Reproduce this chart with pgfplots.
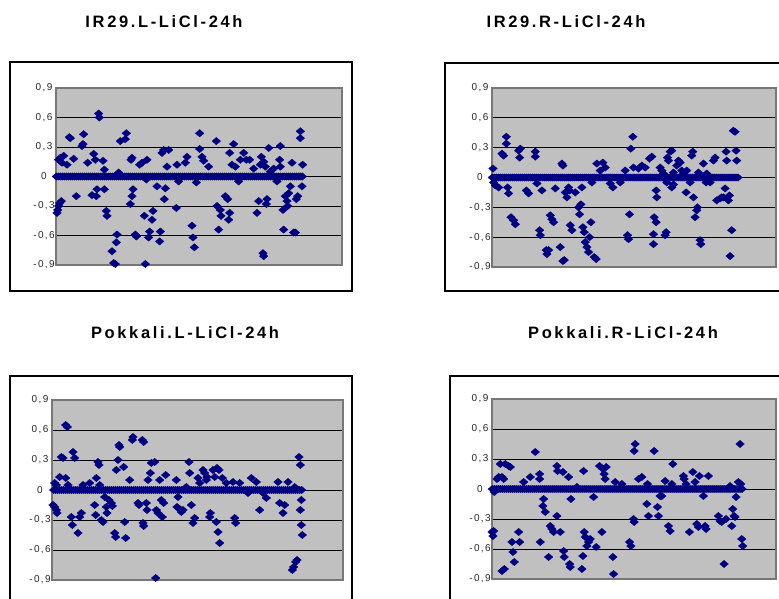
\documentclass[border=0pt]{standalone}
\usepackage{fontspec}
\setmainfont{Liberation Sans}
\newfontfamily\ticksfont[LetterSpace=14]{Liberation Sans}
\newfontfamily\titlefont[LetterSpace=16]{Liberation Sans Bold}
\usepackage{pgfplots}
\pgfplotsset{compat=1.18}
\usepackage{pgfplotstable}
\definecolor{navy}{HTML}{000080}
\definecolor{plotgray}{HTML}{C0C0C0}
\definecolor{bordergray}{HTML}{777777}

\pgfplotstableread[row sep=\\]{
x y\\
150 0\\ 156 0\\ 162 0\\ 168 0\\ 174 0\\ 180 0\\ 186 0\\ 192 0\\ 198 0\\ 204 0\\ 210 0\\ 216 0\\ 222 0\\ 228 0\\ 234 0\\ 240 0\\ 246 0\\ 252 0\\ 258 0\\ 264 0\\ 270 0\\ 276 0\\ 282 0\\ 288 0\\ 294 0\\ 300 0\\ 306 0\\ 312 0\\ 318 0\\ 324 0\\ 330 0\\ 336 0\\ 342 0\\ 348 0\\ 354 0\\ 360 0\\ 366 0\\ 372 0\\ 378 0\\ 384 0\\ 390 0\\ 396 0\\ 402 0\\ 408 0\\ 414 0\\ 420 0\\ 426 0\\ 432 0\\ 438 0\\ 444 0\\ 450 0\\ 456 0\\ 462 0\\ 468 0\\ 474 0\\ 480 0\\ 486 0\\ 492 0\\ 498 0\\ 504 0\\ 510 0\\ 516 0\\ 522 0\\ 528 0\\ 534 0\\ 540 0\\ 546 0\\ 552 0\\ 558 0\\ 564 0\\ 570 0\\ 576 0\\ 582 0\\ 588 0\\ 594 0\\ 600 0\\ 606 0\\ 612 0\\ 618 0\\ 624 0\\ 630 0\\ 636 0\\ 642 0\\ 648 0\\ 654 0\\ 660 0\\ 666 0\\ 672 0\\ 678 0\\ 684 0\\ 690 0\\ 696 0\\ 702 0\\ 708 0\\ 714 0\\ 720 0\\ 726 0\\ 732 0\\ 738 0\\ 744 0\\ 750 0\\ 756 0\\ 762 0\\ 768 0\\ 774 0\\ 780 0\\ 786 0\\ 792 0\\ 798 0\\ 804 0\\ 810 0\\ 816 0\\ 822 0\\ 828 0\\ 834 0\\ 840 0\\ 846 0\\ 852 0\\ 858 0\\ 864 0\\ 870 0\\ 876 0\\ 882 0\\ 888 0\\ 894 0\\ 900 0\\ 906 0\\ 912 0\\ 918 0\\ 924 0\\ 930 0\\ 936 0\\ 942 0\\ 948 0\\ 954 0\\ 960 0\\ 966 0\\ 972 0\\
}\zeroband

\pgfplotsset{
  panel/.style={
    scale only axis, anchor=south west,
    ymin=-0.9, ymax=0.9,
    ytick={-0.6,-0.3,0,0.3,0.6},
    yticklabels={{-0,6},{-0,3},{0},{0,3},{0,6}},
    extra y ticks={-0.9,0.9},
    extra y tick labels={{-0,9},{0,9}},
    extra y tick style={grid=none},
    ymajorgrids,
    major grid style={black, line width=0.8pt},
    xtick=\empty,
    axis background/.style={fill=plotgray},
    axis line style={bordergray, line width=1.2pt},
    tick style={draw=none},
    yticklabel style={font=\ticksfont\fontsize{10}{10}\selectfont, anchor=center, xshift=-12pt, text=black!85},
    clip=false,
  },
  dots/.style={only marks, mark=diamond*, mark size=3.7pt, color=navy, mark options={xscale=1.55, fill=navy, draw=navy, line width=0.3pt}},
}

\begin{document}
\begin{tikzpicture}
\useasboundingbox (0,0) rectangle (779pt,598pt);
\clip (0,0) rectangle (779pt,598pt);

% outer frames
\draw[black, line width=1.6pt] (10pt,307pt) rectangle (352pt,536pt);
\draw[black, line width=1.6pt] (445pt,307pt) rectangle (795pt,535pt);
\draw[black, line width=1.6pt] (10pt,-12pt) rectangle (352pt,222pt);
\draw[black, line width=1.6pt] (450pt,-12pt) rectangle (795pt,222pt);

% titles
\node[font=\titlefont\fontsize{16.5}{16.5}\selectfont] at (164pt,576pt) {IR29.L-LiCl-24h};
\node[font=\titlefont\fontsize{16.5}{16.5}\selectfont] at (566pt,576pt) {IR29.R-LiCl-24h};
\node[font=\titlefont\fontsize{16.5}{16.5}\selectfont] at (185pt,265pt) {Pokkali.L-LiCl-24h};
\node[font=\titlefont\fontsize{16.5}{16.5}\selectfont] at (623pt,265pt) {Pokkali.R-LiCl-24h};

% ---------- IR29.L ----------
\begin{axis}[panel, at={(56pt,333pt)}, width=286pt, height=177pt, xmin=167, xmax=1025]
\addplot[dots, restrict x to domain=167:910] table {\zeroband};
\addplot[dots] coordinates {
(170,-0.37)(172,-0.34)(175,-0.30)(175,0.17)(180,0.19)(185,0.14)(183,-0.25)(178,-0.27)(190,0.21)(200,0.12)(207,0.40)(210,0.39)(220,0.18)(228,-0.20)(250,0.43)(245,0.31)(248,0.33)(262,0.14)(275,-0.19)(280,0.23)(285,0.17)(290,-0.13)(288,-0.20)(295,0.64)(297,0.60)(308,0.16)(312,0.07)(312,-0.13)(318,-0.35)(320,-0.40)(335,-0.76)(340,-0.88)(345,-0.89)(350,-0.59)(348,-0.67)(355,0.04)(360,0.36)(375,0.38)(378,0.44)(390,-0.28)(395,-0.20)(398,-0.13)(392,0.17)(395,0.19)(405,-0.59)(408,-0.61)(418,0.12)(425,0.14)(432,-0.40)(435,-0.89)(440,0.17)(438,-0.03)(445,-0.62)(448,-0.56)(458,-0.35)(455,-0.44)(470,-0.10)(478,-0.66)(480,-0.56)(485,0.24)(490,0.27)(495,-0.12)(492,-0.23)(500,0.10)(505,0.27)(528,-0.32)(530,0.12)(535,-0.05)(555,0.14)(560,0.20)(575,-0.50)(578,-0.62)(582,-0.72)(588,-0.06)(598,0.44)(598,0.28)(605,0.20)(610,0.16)(625,0.10)(648,0.36)(650,-0.30)(655,-0.54)(660,-0.34)(662,-0.40)(675,-0.20)(682,-0.23)(688,0.24)(685,-0.44)(688,-0.37)(695,0.12)(700,0.33)(705,0.10)(715,-0.05)(720,0.17)(730,0.24)(738,0.17)(748,0.17)(760,0.08)(770,-0.37)(775,-0.25)(780,0.12)(783,0.20)(788,-0.78)(790,-0.81)(790,0.15)(795,0.10)(798,-0.28)(800,-0.23)(805,0.29)(810,0.05)(820,0.08)(830,-0.05)(838,0.17)(840,0.31)(840,0.10)(848,-0.34)(850,-0.54)(855,-0.20)(860,-0.25)(862,-0.30)(865,-0.17)(870,-0.10)(875,0.14)(880,-0.57)(885,-0.57)(888,-0.23)(892,-0.20)(900,0.46)(900,0.39)(905,-0.10)(907,0.12)
};
\end{axis}

% ---------- IR29.R ----------
\begin{axis}[panel, at={(492pt,331pt)}, width=284pt, height=179pt, xmin=215, xmax=1068]
\addplot[dots, restrict x to domain=215:955] table {\zeroband};
\addplot[dots] coordinates {
(218,0.09)(220,-0.05)(225,-0.08)(235,-0.10)(245,0.24)(250,0.22)(258,0.41)(258,0.34)(262,-0.10)(265,-0.16)(272,-0.40)(280,-0.43)(285,-0.47)(295,0.27)(298,0.20)(300,0.29)(318,-0.13)(325,-0.16)(345,0.26)(345,0.21)(350,-0.06)(358,-0.53)(360,-0.58)(365,-0.13)(378,-0.73)(380,-0.77)(385,-0.73)(390,-0.38)(395,-0.42)(400,-0.45)(405,-0.11)(420,-0.70)(425,0.14)(428,0.12)(428,-0.84)(432,-0.83)(435,-0.15)(440,-0.20)(445,-0.10)(448,-0.13)(450,-0.48)(455,-0.53)(465,-0.15)(475,-0.30)(478,-0.37)(482,-0.27)(485,-0.10)(488,-0.50)(492,-0.55)(495,-0.65)(500,-0.70)(505,-0.75)(508,-0.60)(512,-0.45)(515,-0.05)(522,-0.80)(528,-0.82)(530,0.14)(540,0.07)(548,0.15)(555,0.10)(570,-0.06)(578,-0.10)(600,-0.05)(615,0.07)(622,-0.58)(625,-0.62)(628,-0.37)(632,0.29)(638,0.41)(640,0.10)(655,0.09)(665,0.12)(675,0.10)(688,0.19)(695,0.21)(700,-0.67)(700,-0.57)(702,-0.40)(708,-0.45)(708,-0.13)(710,-0.20)(720,0.10)(725,0.07)(730,0.04)(735,-0.58)(738,-0.55)(740,-0.05)(742,0.20)(745,0.17)(750,0.26)(755,0.27)(755,-0.10)(760,0.05)(760,-0.07)(770,0.12)(775,0.17)(780,0.15)(785,0.07)(790,0.04)(798,-0.15)(800,0.07)(810,-0.05)(815,0.22)(818,0.26)(820,-0.20)(825,-0.40)(830,-0.33)(832,-0.30)(835,0.05)(840,-0.63)(842,-0.67)(850,0.14)(858,-0.05)(860,0.04)(870,-0.05)(880,0.17)(885,0.20)(890,-0.23)(900,-0.21)(905,-0.20)(910,-0.20)(915,-0.11)(918,0.26)(920,0.17)(925,-0.23)(928,-0.18)(930,-0.79)(935,-0.53)(940,0.47)(945,0.46)(948,0.27)(950,0.17)
};
\end{axis}

% ---------- Pokkali.L ----------
\begin{axis}[panel, at={(52pt,18pt)}, width=291pt, height=180pt, xmin=157, xmax=1030]
\addplot[dots, restrict x to domain=157:910] table {\zeroband};
\addplot[dots] coordinates {
(160,-0.15)(165,-0.17)(170,-0.20)(172,-0.23)(165,0.07)(170,0.05)(180,0.13)(185,0.33)(190,0.32)(198,0.65)(203,0.63)(198,0.12)(205,0.05)(215,-0.27)(218,-0.35)(220,0.38)(225,0.32)(235,-0.43)(240,-0.27)(245,-0.23)(250,0.05)(270,0.07)(285,-0.15)(288,-0.25)(290,0.12)(295,0.28)(298,0.25)(300,0.05)(305,-0.30)(310,-0.32)(315,-0.07)(320,-0.17)(322,-0.23)(328,-0.10)(335,-0.13)(338,-0.16)(345,-0.43)(348,-0.47)(350,0.20)(355,0.30)(358,0.45)(360,0.43)(372,0.23)(375,-0.32)(378,-0.48)(390,0.10)(398,0.50)(400,0.53)(415,-0.13)(418,-0.15)(428,0.50)(432,0.48)(430,-0.33)(432,-0.36)(440,-0.13)(442,-0.20)(445,0.10)(452,0.17)(455,0.27)(465,0.28)(468,-0.88)(470,-0.20)(475,-0.23)(480,0.10)(485,-0.10)(488,-0.27)(492,-0.13)(498,0.15)(530,0.10)(535,-0.07)(532,-0.17)(540,-0.19)(545,-0.22)(550,-0.20)(560,0.03)(568,0.28)(570,0.17)(575,-0.15)(580,-0.33)(585,-0.28)(595,0.12)(600,0.07)(610,0.20)(615,0.17)(620,0.10)(622,0.13)(630,-0.27)(632,-0.23)(640,0.20)(645,0.13)(650,-0.32)(655,-0.42)(660,-0.53)(652,0.22)(658,0.20)(668,0.12)(680,0.07)(700,0.08)(705,-0.28)(708,-0.33)(720,0.07)(745,-0.03)(755,0.12)(770,0.08)(780,-0.20)(790,-0.03)(800,-0.08)(835,0.08)(840,-0.13)(850,-0.23)(855,-0.15)(865,0.08)(878,-0.80)(882,-0.77)(888,-0.72)(892,-0.70)(885,0.03)(898,0.33)(902,0.25)(902,-0.20)(905,-0.10)(905,-0.35)(908,-0.45)
};
\end{axis}

% ---------- Pokkali.R ----------
\begin{axis}[panel, at={(492pt,19pt)}, width=284pt, height=180pt, xmin=215, xmax=1068]
\addplot[dots, restrict x to domain=215:970] table {\zeroband};
\addplot[dots] coordinates {
(215,-0.43)(218,-0.47)(220,-0.42)(222,-0.03)(230,0.10)(235,0.12)(240,0.25)(245,0.12)(250,0.10)(255,0.25)(265,0.23)(270,0.22)(245,-0.82)(252,-0.80)(275,-0.53)(278,-0.63)(282,-0.73)(295,-0.43)(298,-0.53)(310,0.07)(330,0.12)(345,0.37)(358,0.15)(358,0.10)(360,-0.53)(368,-0.17)(370,-0.10)(375,-0.23)(385,-0.68)(390,-0.37)(395,-0.40)(400,-0.43)(410,-0.27)(410,0.23)(412,0.18)(420,-0.43)(428,0.17)(430,-0.62)(432,-0.68)(445,0.12)(448,-0.75)(450,-0.78)(452,-0.10)(470,0.02)(485,-0.80)(488,-0.67)(490,0.18)(492,-0.43)(495,-0.48)(500,-0.57)(505,-0.53)(510,-0.50)(520,-0.08)(528,-0.58)(538,0.23)(545,-0.43)(548,0.20)(552,0.15)(555,0.10)(558,0.22)(578,-0.68)(580,-0.85)(585,0.07)(605,0.05)(628,-0.53)(632,-0.57)(640,-0.30)(642,-0.33)(642,0.38)(645,0.45)(655,0.10)(665,0.12)(682,0.05)(680,-0.15)(685,-0.27)(702,0.38)(712,-0.18)(715,-0.27)(720,-0.07)(725,-0.07)(735,0.08)(745,-0.37)(750,-0.42)(755,0.05)(758,0.25)(790,0.13)(792,0.10)(798,0.05)(808,-0.43)(818,0.17)(825,0.07)(830,-0.35)(835,-0.38)(838,0.13)(850,-0.07)(855,-0.37)(858,-0.40)(865,0.13)(895,-0.27)(900,-0.32)(905,-0.33)(912,-0.75)(918,-0.30)(930,0.03)(935,-0.37)(938,-0.20)(942,-0.27)(945,-0.28)(948,-0.08)(955,0.07)(960,0.45)(962,0.05)(965,-0.50)(968,-0.57)
};
\end{axis}
\end{tikzpicture}
\end{document}
